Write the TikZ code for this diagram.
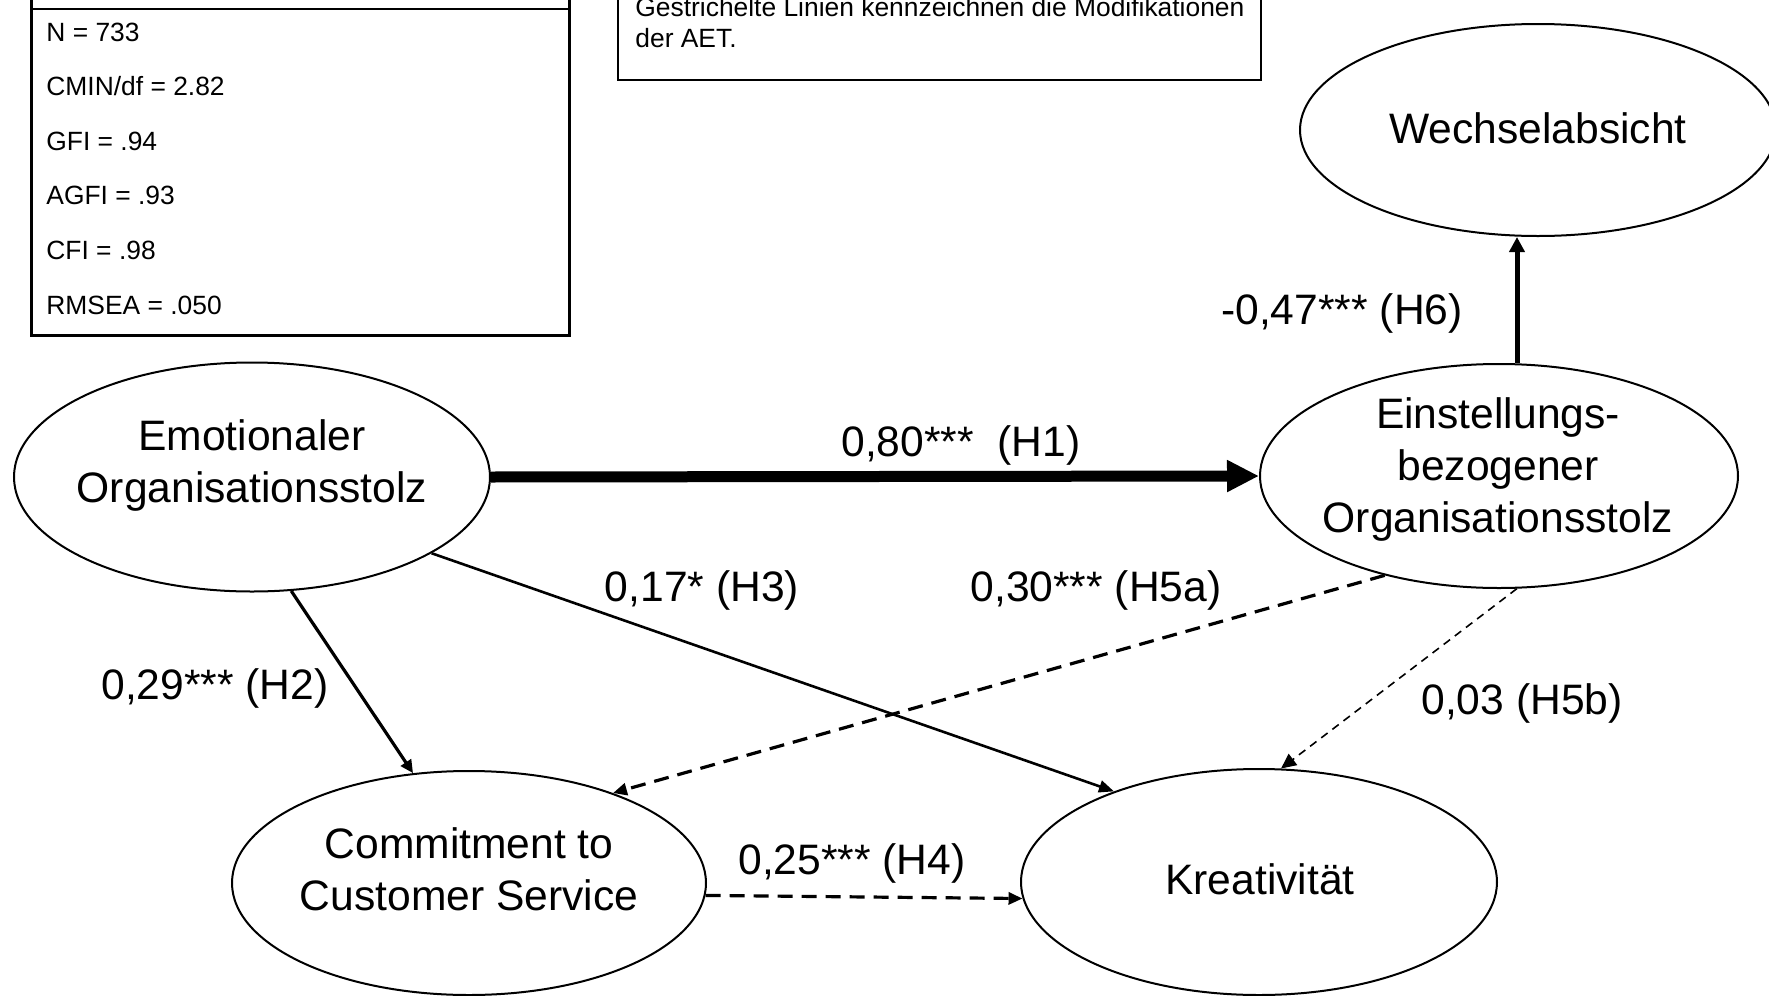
\documentclass[tikz,border=0pt]{standalone}
\usepackage{fontspec}
\setmainfont{Liberation Sans}
\usetikzlibrary{arrows.meta,shapes.geometric}

\begin{document}
\begin{tikzpicture}[x=0.5pt,y=-0.5pt,
  latent/.style={draw,ellipse,line width=1pt,inner sep=0pt},
  lbl/.style={font=\fontsize{21.3}{26}\selectfont,inner sep=0pt},
  inner/.style={lbl,align=center},
  small/.style={font=\fontsize{13.2}{15.5}\selectfont,inner sep=0pt,anchor=base west},
  h1/.style={line width=5.5pt,-{Triangle[length=16pt,width=15pt]}},
  h6/.style={line width=2.5pt,-{Triangle[length=7.5pt,width=7.5pt]}},
  h2/.style={line width=1.6pt,-{Triangle[length=6.5pt,width=6pt]}},
  h3/.style={line width=1.3pt,-{Triangle[length=7.5pt,width=6pt]}},
  mod/.style={line width=1.6pt,dash pattern=on 7.5pt off 4.5pt,-{Triangle[length=7pt,width=6pt]}},
  modthin/.style={line width=0.8pt,dash pattern=on 4pt off 3pt,-{Triangle[length=7.5pt,width=7pt]}}
]
\useasboundingbox (0,0) rectangle (1769,996);

% fit statistics box
\draw[line width=1.5pt] (31,-30) -- (31,335) -- (569,335) -- (569,-30);
\draw[line width=0.8pt] (31,9) -- (569,9);
\node[small] (s1) at (46,41) {N = 733};
\node[small] (s2) at (46,95.6) {CMIN/df = 2.82};
\node[small] (s3) at (46,150.2) {GFI = .94};
\node[small] (s4) at (46,204.8) {AGFI = .93};
\node[small] (s5) at (46,259.4) {CFI = .98};
\node[small] (s6) at (46,314) {RMSEA = .050};

% note box
\draw[line width=0.7pt] (618,-30) -- (618,80) -- (1261,80) -- (1261,-30);
\node[small] (n1) at (635,16) {Gestrichelte Linien kennzeichnen die Modifikationen};
\node[small] (n2) at (635,47) {der AET.};

% latent constructs
\node[latent,minimum width=476pt*0.5,minimum height=229pt*0.5] (e1) at (252,477) {};
\node[latent,minimum width=478pt*0.5,minimum height=224pt*0.5] (e2) at (1499,476) {};
\node[latent,minimum width=476pt*0.5,minimum height=212pt*0.5] (e3) at (1538,130) {};
\node[latent,minimum width=474pt*0.5,minimum height=224pt*0.5] (e4) at (469,883) {};
\node[latent,minimum width=476pt*0.5,minimum height=226pt*0.5] (e5) at (1259,882) {};

\node[inner] (t1) at (252,465) {Emotionaler\\Organisationsstolz};
\node[inner] (t2) at (1498,469) {Einstellungs-\\bezogener\\Organisationsstolz};
\node[inner] (t3) at (1538,128) {Wechselabsicht};
\node[inner] (t4) at (469,869) {Commitment to\\Customer Service};
\node[inner] (t5) at (1260,879) {Kreativität};

% paths
\draw[h1] (e1.east) -- (e2.west);
\draw[h6] ([xshift=9pt]e2.north) -- ([xshift=-10.5pt]e3.south);
\draw[h2] (e1.-71) -- (e4.117);
\draw[h3] (e1.-23) -- (e5.148);
\draw[mod] (e2.221) -- (e4.32);
\draw[modthin] (e2.-81) -- (e5.79);
\draw[mod] (e4.-3) -- (e5.184);

% path coefficients
\node[lbl] (l1) at (961,445) {0,80***\ \ (H1)};
\node[lbl] (l6) at (1342,313) {-0,47*** (H6)};
\node[lbl] (l3) at (702,590) {0,17* (H3)};
\node[lbl] (l5a) at (1096,590) {0,30*** (H5a)};
\node[lbl] (l2) at (215,688) {0,29*** (H2)};
\node[lbl] (l5b) at (1522,703) {0,03 (H5b)};
\node[lbl] (l4) at (852,863) {0,25*** (H4)};
\end{tikzpicture}
\end{document}
